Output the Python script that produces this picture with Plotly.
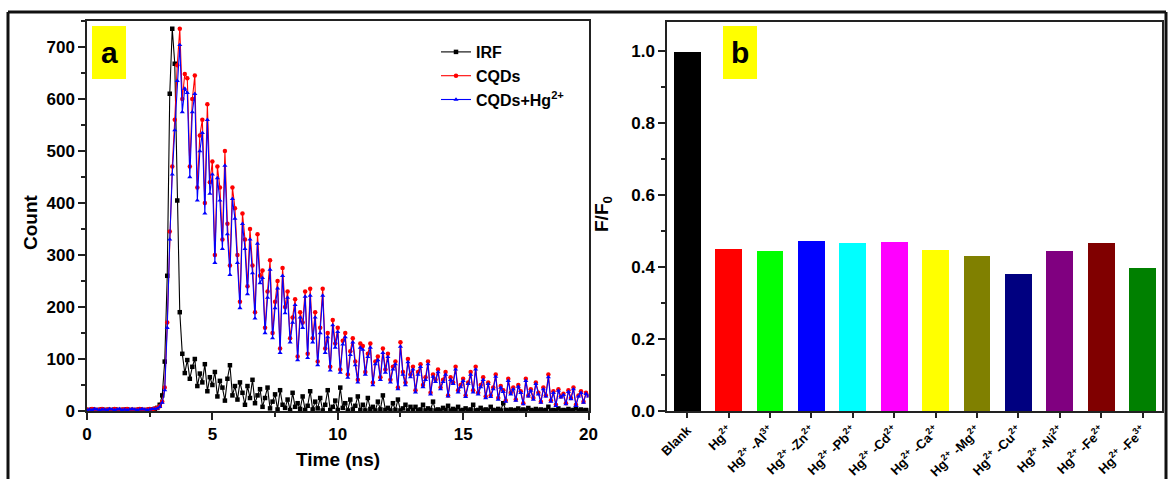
import numpy as np
import plotly.graph_objects as go

# Time channels (ns) of the decay histograms
time_ns = np.round(np.arange(0, 20.01, 0.1), 1)

irf_counts = [
    2, 1, 3, 2, 1, 2, 3, 1, 2, 2,
    1, 3, 2, 1, 2, 2, 3, 1, 2, 1,
    2, 3, 2, 1, 2, 3, 2, 4, 6, 12,
    30, 95, 260, 610, 735, 668, 405, 190, 110, 73,
    98, 62, 85, 100, 48, 72, 55, 90, 38, 65,
    50, 75, 28, 58, 45, 20, 62, 88, 30, 48,
    22, 55, 35, 12, 48, 25, 60, 15, 30, 42,
    8, 25, 45, 5, 18, 32, 3, 40, 12, 6,
    22, 2, 35, 8, 15, 4, 28, 2, 10, 38,
    3, 18, 5, 25, 1, 12, 40, 2, 8, 20,
    2, 45, 6, 15, 1, 22, 3, 10, 28, 2,
    12, 1, 25, 4, 8, 1, 18, 3, 30, 2,
    6, 1, 15, 2, 22, 1, 5, 12, 1, 8,
    2, 8, 1, 3, 12, 1, 5, 2, 18, 1,
    3, 1, 6, 2, 10, 1, 4, 2, 8, 1,
    2, 5, 1, 3, 12, 1, 2, 6, 1, 3,
    1, 8, 2, 1, 4, 1, 15, 2, 1, 3,
    1, 2, 5, 1, 3, 1, 6, 2, 1, 4,
    1, 3, 1, 2, 8, 1, 2, 1, 5, 1,
    2, 1, 4, 1, 2, 6, 1, 3, 1, 2,
    1,
]

cqds_counts = [
    3, 2, 4, 3, 2, 3, 4, 2, 3, 3,
    2, 4, 3, 2, 3, 3, 4, 2, 3, 2,
    3, 4, 3, 2, 3, 4, 3, 5, 6, 9,
    18, 45, 170, 345, 470, 560, 665, 735, 600, 648,
    640, 470, 600, 645, 430, 530, 560, 400, 590, 440,
    480, 300, 470, 430, 330, 500, 360, 280, 430, 390,
    300, 210, 380, 330, 240, 350, 280, 190, 340, 260,
    270, 160, 230, 290, 150, 210, 250, 120, 275, 200,
    230, 140, 180, 215, 105, 190, 170, 230, 110, 235,
    140, 190, 95, 160, 235, 120, 150, 85, 175, 130,
    160, 80, 135, 150, 70, 115, 140, 95, 60, 130,
    125, 75, 110, 130, 55, 95, 105, 65, 120, 80,
    110, 60, 85, 95, 45, 132, 75, 55, 100, 70,
    85, 40, 75, 90, 50, 65, 95, 35, 70, 60,
    80, 45, 60, 75, 30, 65, 55, 85, 40, 50,
    62, 30, 55, 75, 40, 85, 35, 50, 65, 28,
    55, 30, 45, 70, 25, 48, 40, 20, 62, 35,
    45, 22, 50, 38, 15, 62, 30, 42, 25, 55,
    35, 18, 45, 30, 70, 20, 38, 12, 42, 28,
    33, 15, 40, 25, 45, 12, 30, 38, 18, 35,
    30,
]

cqds_hg_counts = [
    2, 3, 2, 4, 3, 2, 3, 3, 2, 4,
    3, 2, 3, 4, 2, 3, 2, 3, 4, 3,
    2, 3, 4, 3, 2, 3, 4, 4, 5, 8,
    16, 40, 160, 330, 455, 540, 635, 704, 575, 620,
    612, 450, 575, 610, 405, 500, 535, 380, 560, 418,
    455, 285, 448, 405, 312, 472, 340, 262, 408, 370,
    285, 198, 360, 312, 225, 330, 265, 178, 322, 246,
    256, 150, 218, 272, 140, 198, 236, 112, 260, 188,
    218, 132, 170, 204, 98, 180, 160, 220, 102, 222,
    132, 180, 88, 150, 222, 112, 142, 78, 165, 122,
    152, 74, 128, 142, 64, 108, 132, 88, 55, 122,
    118, 70, 104, 122, 50, 90, 98, 60, 112, 74,
    104, 55, 80, 90, 42, 124, 70, 50, 94, 65,
    80, 36, 70, 85, 46, 60, 90, 32, 66, 56,
    75, 42, 56, 70, 28, 60, 52, 80, 36, 46,
    58, 27, 52, 70, 36, 80, 32, 46, 60, 25,
    52, 27, 42, 66, 22, 45, 37, 18, 58, 32,
    42, 20, 47, 35, 13, 58, 28, 39, 22, 52,
    32, 16, 42, 28, 65, 18, 35, 10, 39, 26,
    31, 13, 37, 23, 42, 10, 28, 35, 16, 33,
    28,
]

# Selectivity panel
ion_labels = [
    "Blank", "Hg<sup>2+</sup>", "Hg<sup>2+</sup> -Al<sup>3+</sup>",
    "Hg<sup>2+</sup> -Zn<sup>2+</sup>", "Hg<sup>2+</sup> -Pb<sup>2+</sup>",
    "Hg<sup>2+</sup> -Cd<sup>2+</sup>", "Hg<sup>2+</sup> -Ca<sup>2+</sup>",
    "Hg<sup>2+</sup> -Mg<sup>2+</sup>", "Hg<sup>2+</sup> -Cu<sup>2+</sup>",
    "Hg<sup>2+</sup> -Ni<sup>2+</sup>", "Hg<sup>2+</sup> -Fe<sup>2+</sup>",
    "Hg<sup>2+</sup> -Fe<sup>3+</sup>",
]
f_over_f0 = [0.997, 0.450, 0.443, 0.473, 0.467, 0.468, 0.447, 0.431, 0.381, 0.443, 0.467, 0.396]
bar_colors = ["#000000", "#ff0000", "#00ff00", "#0000ff", "#00ffff", "#ff00ff",
              "#ffff00", "#808000", "#000080", "#800080", "#800000", "#008000"]

W, H = 1170, 479
FONT = "Liberation Sans, Arial, sans-serif"


def px_x(x):
    return x / W


def px_y(y):
    return 1 - y / H


fig = go.Figure()

series = [
    ("IRF", irf_counts, "#000000", "square"),
    ("CQDs", cqds_counts, "#ff0000", "circle"),
    ("CQDs+Hg<sup>2+</sup>", cqds_hg_counts, "#0000ff", "triangle-up"),
]
for name, counts, color, symbol in series:
    fig.add_trace(go.Scatter(
        x=time_ns, y=counts, name=name, mode="lines+markers",
        line=dict(color=color, width=1.1),
        marker=dict(color=color, symbol=symbol, size=4.5),
        xaxis="x", yaxis="y",
    ))

fig.add_trace(go.Bar(
    x=list(range(len(ion_labels))), y=f_over_f0, width=0.645,
    marker=dict(color=bar_colors, line=dict(width=0)),
    xaxis="x2", yaxis="y2", showlegend=False,
))

tickfont = dict(family=FONT, size=17, color="#000000", weight="bold")
axis_common = dict(
    showline=True, linecolor="#222222", linewidth=1.5, mirror=True,
    ticks="outside", ticklen=7, tickwidth=1.5, tickcolor="#222222",
    showgrid=False, zeroline=False, tickfont=tickfont, automargin=False,
)
minor_common = dict(ticklen=4, tickwidth=1.5, tickcolor="#222222", ticks="outside")

fig.update_layout(
    width=W, height=H,
    margin=dict(l=0, r=0, t=0, b=0, autoexpand=False),
    paper_bgcolor="white", plot_bgcolor="white",
    bargap=0,
    xaxis=dict(domain=[px_x(87), px_x(588.5)], range=[0, 20], tickvals=[0, 5, 10, 15, 20],
               minor=dict(tickvals=[2.5, 7.5, 12.5, 17.5], **minor_common),
               anchor="y", **axis_common),
    yaxis=dict(domain=[px_y(411), px_y(21)], range=[0, 750], tickvals=list(range(0, 701, 100)),
               minor=dict(tickvals=list(range(50, 751, 100)), **minor_common),
               anchor="x", **axis_common),
    xaxis2=dict(domain=[px_x(667), px_x(1162)], range=[-0.49, 11.47],
                tickvals=list(range(len(ion_labels))), ticktext=ion_labels,
                tickangle=-45, anchor="y2",
                **{**axis_common, "ticklen": 5,
                   "tickfont": dict(family=FONT, size=13, color="#000000", weight="bold")}),
    yaxis2=dict(domain=[px_y(411), px_y(22)], range=[0, 1.08], tickvals=[0, 0.2, 0.4, 0.6, 0.8, 1.0],
                tickformat=".1f",
                minor=dict(tickvals=[0.1, 0.3, 0.5, 0.7, 0.9], **minor_common),
                anchor="x2", **axis_common),
    legend=dict(x=px_x(436), y=px_y(35), xanchor="left", yanchor="top",
                bgcolor="rgba(0,0,0,0)", borderwidth=0, tracegroupgap=0,
                font=dict(family=FONT, size=16, color="#000000", weight="bold")),
    showlegend=True,
)

# Axis titles
title_font = dict(family=FONT, size=19, color="#000000")
centred = dict(xref="paper", yref="paper", showarrow=False, xanchor="center", yanchor="middle")
fig.add_annotation(x=px_x(338), y=px_y(459), text="<b>Time (ns)</b>", font=title_font, **centred)
fig.add_annotation(x=px_x(30), y=px_y(222), text="<b>Count</b>", textangle=-90, font=title_font, **centred)
fig.add_annotation(x=px_x(603), y=px_y(214), text="<b>F/F<sub>0</sub></b>", textangle=-90,
                   font=title_font, **centred)

# Panel tags on yellow boxes
for x0, x1, tag in [(92, 126, "a"), (723, 757, "b")]:
    fig.add_shape(type="rect", xref="paper", yref="paper",
                  x0=px_x(x0), x1=px_x(x1), y0=px_y(79), y1=px_y(26),
                  fillcolor="#ffff00", line=dict(width=0), layer="above")
    fig.add_annotation(x=px_x((x0 + x1) / 2), y=px_y(52), text=f"<b>{tag}</b>",
                       font=dict(family=FONT, size=30, color="#000000"), **centred)

# Outer frame
frame = dict(color="#111111", width=3)
fig.add_shape(type="line", xref="paper", yref="paper", x0=px_x(8), x1=px_x(1166), y0=px_y(12), y1=px_y(12), line=frame)
fig.add_shape(type="line", xref="paper", yref="paper", x0=px_x(8), x1=px_x(8), y0=px_y(12), y1=px_y(482), line=frame)
fig.add_shape(type="line", xref="paper", yref="paper", x0=px_x(1166), x1=px_x(1166), y0=px_y(12), y1=px_y(482), line=frame)

fig.write_html("out.html")
